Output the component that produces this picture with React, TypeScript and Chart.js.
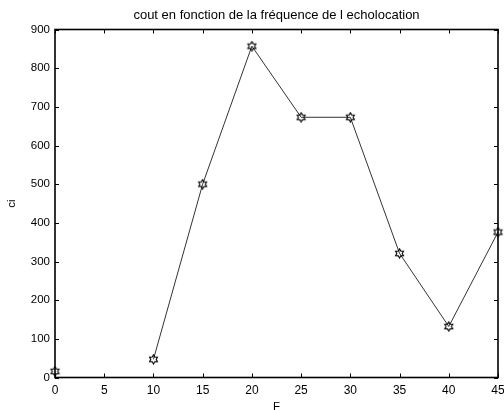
import React, { useEffect, useRef } from "react";
import { Chart, registerables } from "chart.js";

Chart.register(...registerables);

// Frequency (F) and cost (ci); no sample recorded at F = 5
const frequencies = [0, 5, 10, 15, 20, 25, 30, 35, 40, 45];
const costs: (number | null)[] = [16, null, 47, 500, 857, 673, 673, 321, 132, 376];
const xTicks = [0, 5, 10, 15, 20, 25, 30, 35, 40, 45];
const yTicks = [0, 100, 200, 300, 400, 500, 600, 700, 800, 900];
const xLabel = "F";

const FONT = "Liberation Sans, Arial, Helvetica, sans-serif";

// Six-pointed star marker
function makeHexagram(): HTMLCanvasElement {
  const size = 11;
  const c = document.createElement("canvas");
  c.width = size;
  c.height = size;
  const ctx = c.getContext("2d")!;
  const cx = size / 2;
  const cy = size / 2;
  const ro = 4.6;
  const ri = 2.7;
  ctx.beginPath();
  for (let i = 0; i < 12; i++) {
    const r = i % 2 === 0 ? ro : ri;
    const a = -Math.PI / 2 + (i * Math.PI) / 6;
    const x = cx + r * Math.cos(a);
    const y = cy + r * Math.sin(a);
    if (i === 0) ctx.moveTo(x, y);
    else ctx.lineTo(x, y);
  }
  ctx.closePath();
  ctx.strokeStyle = "#000";
  ctx.lineWidth = 1.1;
  ctx.stroke();
  return c;
}

// Box frame with inward ticks on all four sides, plus the x-axis label
const framePlugin = {
  id: "frame",
  afterDatasetsDraw(chart: any) {
    const { ctx, chartArea, scales } = chart;
    const { left, right, top, bottom } = chartArea;
    const tl = 4;
    ctx.save();
    ctx.strokeStyle = "#000";
    ctx.lineWidth = 1;
    ctx.beginPath();
    for (const v of xTicks) {
      const x = Math.round(scales.x.getPixelForValue(v)) + 0.5;
      ctx.moveTo(x, bottom);
      ctx.lineTo(x, bottom - tl);
      ctx.moveTo(x, top);
      ctx.lineTo(x, top + tl);
    }
    for (const v of yTicks) {
      const y = Math.round(scales.y.getPixelForValue(v)) + 0.5;
      ctx.moveTo(left, y);
      ctx.lineTo(left + tl, y);
      ctx.moveTo(right, y);
      ctx.lineTo(right - tl, y);
    }
    ctx.stroke();
    ctx.lineWidth = 1.6;
    ctx.strokeRect(left, top, right - left, bottom - top);

    ctx.fillStyle = "#000";
    ctx.font = `11.5px ${FONT}`;
    ctx.textAlign = "center";
    ctx.textBaseline = "alphabetic";
    ctx.fillText(xLabel, (left + right) / 2, chart.height - 0.5);
    ctx.restore();
  },
};

export default function App() {
  const ref = useRef<HTMLCanvasElement>(null);

  useEffect(() => {
    if (!ref.current) return;
    const marker = makeHexagram();
    const chart = new Chart(ref.current, {
      type: "line",
      data: {
        labels: frequencies,
        datasets: [
          {
            data: frequencies.map((f, i) => ({ x: f, y: costs[i] as any })),
            borderColor: "#333",
            borderWidth: 1,
            pointStyle: marker as any,
            pointRadius: 5,
            spanGaps: false,
            clip: false as any,
            tension: 0,
          },
        ],
      },
      plugins: [framePlugin],
      options: {
        animation: false,
        responsive: false,
        maintainAspectRatio: false,
        layout: { padding: { left: 0, right: 0, top: 0, bottom: 0 } },
        plugins: {
          legend: { display: false },
          tooltip: { enabled: false },
          title: {
            display: true,
            fullSize: false,
            text: "cout en fonction de la fréquence de l echolocation",
            color: "#000",
            font: { family: FONT, size: 13, weight: "normal" as any, lineHeight: 1.2 },
            padding: { top: 8, bottom: 5.9 },
          },
        },
        scales: {
          x: {
            type: "linear",
            min: 0,
            max: 45,
            afterFit: (s: any) => {
              s.height = 32.5;
              s.paddingLeft = 0;
              s.paddingRight = 6;
            },
            afterBuildTicks: (s: any) => {
              s.ticks = xTicks.map((v) => ({ value: v }));
            },
            ticks: {
              color: "#000",
              font: { family: FONT, size: 12 },
              padding: 6,
              maxRotation: 0,
              autoSkip: false,
            },
            grid: { display: false, drawTicks: false },
            border: { display: false },
            title: { display: false },
          },
          y: {
            type: "linear",
            min: 0,
            max: 900,
            afterFit: (s: any) => {
              s.width = 55;
              s.paddingTop = 0;
              s.paddingBottom = 0;
            },
            afterBuildTicks: (s: any) => {
              s.ticks = yTicks.map((v) => ({ value: v }));
            },
            ticks: {
              color: "#000",
              font: { family: FONT, size: 11.5 },
              padding: 5,
              autoSkip: false,
            },
            grid: { display: false, drawTicks: false },
            border: { display: false },
            title: {
              display: true,
              text: "ci",
              color: "#000",
              font: { family: FONT, size: 11.5, lineHeight: 1.2 },
              padding: { top: 5, bottom: 0 },
            },
          },
        },
      },
    });
    return () => chart.destroy();
  }, []);

  return (
    <div style={{ position: "fixed", left: 0, top: 0, width: 504, height: 410, background: "#fff" }}>
      <canvas ref={ref} width={504} height={410} style={{ width: 504, height: 410 }} />
    </div>
  );
}
